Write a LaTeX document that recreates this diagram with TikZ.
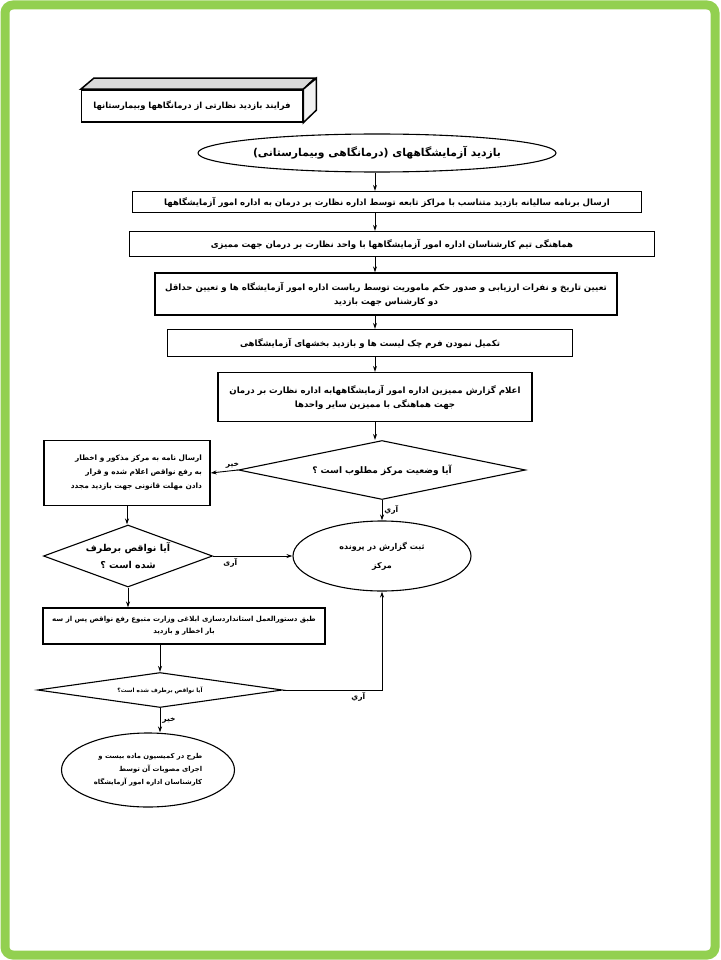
\documentclass[tikz,border=0pt]{standalone}
\usepackage{fontspec}
\newfontfamily\fa[Script=Arabic]{DejaVu Sans}
\TeXXeTstate=1
\usetikzlibrary{positioning, shapes.geometric, arrows.meta}
\definecolor{framegreen}{RGB}{146,208,80}
\newcommand{\rtl}[1]{\beginR #1\endR}

\begin{document}
\begin{tikzpicture}[x=1pt, y=-1pt, >={Stealth[length=6pt, width=4pt]},
  procbox/.style={rectangle, draw, line width=1.3pt, align=center, inner sep=2pt, font=\fa\bfseries\fontsize{8.6}{14}\selectfont},
  termbox/.style={ellipse, draw, line width=1.1pt, align=center, inner sep=0pt, font=\fa\bfseries\fontsize{8.6}{14}\selectfont},
  askbox/.style={diamond, draw, line width=1.1pt, align=center, inner sep=0pt, font=\fa\bfseries\fontsize{9}{14}\selectfont},
  flow/.style={->, line width=0.9pt},
  tag/.style={font=\fa\bfseries\fontsize{7.5}{9}\selectfont, inner sep=2pt}]
  \useasboundingbox (0,0) rectangle (720,960);
  \draw[framegreen, line width=9pt, rounded corners=8pt] (5,5) rectangle (715,955);

  % Nodes
  \node[procbox, minimum width=221pt, minimum height=32pt, line width=1.5pt, font=\fa\bfseries\fontsize{8.4}{12}\selectfont] (title) at (192,106) {\rtl{فرایند بازدید نظارتی از درمانگاهها وبیمارستانها}};
  \draw[line width=1.5pt, fill=gray!30] (title.north west) -- ++(13,-11) -- ++(221,0) -- (title.north east) -- cycle;
  \draw[line width=1.5pt, fill=gray!10] (title.north east) -- ++(13,-11) -- ++(0,32) -- (title.south east) -- cycle;

  \node[termbox, minimum width=358pt, minimum height=38pt, font=\fa\bfseries\fontsize{10.8}{14}\selectfont] (visit) at (377,153) {\rtl{بازدید آزمایشگاههای (درمانگاهی وبیمارستانی)}};

  \node[procbox, minimum width=509pt, minimum height=21pt] (send) at (387,202) {\rtl{ارسال برنامه سالیانه بازدید متناسب با مراکز تابعه توسط اداره نظارت بر درمان به اداره امور آزمایشگاهها}};

  \node[procbox, minimum width=525pt, minimum height=25pt] (coord) at (392,244) {\rtl{هماهنگی تیم کارشناسان اداره امور آزمایشگاهها با واحد نظارت بر درمان جهت ممیزی}};

  \node[procbox, minimum width=462pt, minimum height=42pt] (date) at (386,294) {\rtl{تعیین تاریخ و نفرات ارزیابی و صدور حکم ماموریت توسط ریاست اداره امور آزمایشگاه ها و تعیین حداقل}\\ \rtl{دو کارشناس جهت بازدید}};

  \node[procbox, minimum width=405pt, minimum height=27pt] (check) at (370,343) {\rtl{تکمیل نمودن فرم چک لیست ها و بازدید بخشهای آزمایشگاهی}};

  \node[procbox, minimum width=314pt, minimum height=49pt] (report) at (375,397) {\rtl{اعلام گزارش ممیزین اداره امور آزمایشگاههابه اداره نظارت بر درمان}\\ \rtl{جهت هماهنگی با ممیزین سایر واحدها}};

  \node[askbox, shape aspect=4.86, minimum width=287pt, minimum height=59pt] (status) at (382,470) {\rtl{آیا وضعیت مرکز مطلوب است ؟}};

  \node[procbox, align=right, text width=150pt, minimum width=166pt, minimum height=65pt, font=\fa\bfseries\fontsize{7.4}{14}\selectfont] (warn) at (127,473) {\rtl{ارسال نامه به مرکز مذکور و اخطار}\\ \rtl{به رفع نواقص اعلام شده و قرار}\\ \rtl{دادن مهلت قانونی جهت بازدید مجدد}};

  \node[askbox, shape aspect=2.7, minimum width=169pt, minimum height=62pt, font=\fa\bfseries\fontsize{9.5}{17}\selectfont] (fixed) at (128,556) {\rtl{آیا نواقص برطرف}\\ \rtl{شده است ؟}};

  \node[termbox, minimum width=178pt, minimum height=70pt, font=\fa\bfseries\fontsize{8}{19}\selectfont] (record) at (382,556) {\rtl{ثبت گزارش در پرونده}\\ \rtl{مرکز}};

  \node[procbox, minimum width=282pt, minimum height=36pt, line width=1.1pt, font=\fa\bfseries\fontsize{7}{12}\selectfont] (rule) at (184,626) {\rtl{طبق دستورالعمل استانداردسازی ابلاغی وزارت متبوع رفع نواقص پس از سه}\\ \rtl{بار اخطار و بازدید}};

  \node[askbox, shape aspect=7, minimum width=245pt, minimum height=35pt, font=\fa\bfseries\fontsize{5.8}{10}\selectfont] (again) at (160,690) {\rtl{آیا نواقص برطرف شده است؟}};

  \node[termbox, align=right, minimum width=173pt, minimum height=74pt, font=\fa\bfseries\fontsize{6.8}{13}\selectfont] (commission) at (148,770) {\rtl{طرح در کمیسیون ماده بیست و}\\ \rtl{اجرای مصوبات آن توسط}\\ \rtl{کارشناسان اداره امور آزمایشگاه}};

  \coordinate (axis) at (375,0);

  \draw[flow] (visit.south -| axis) -- (send.north -| axis);
  \draw[flow] (send.south -| axis) -- (coord.north -| axis);
  \draw[flow] (coord.south -| axis) -- (date.north -| axis);
  \draw[flow] (date.south -| axis) -- (check.north -| axis);
  \draw[flow] (check.south -| axis) -- (report.north -| axis);
  \draw[flow] (report.south -| axis) -- (status.north -| axis);
  \draw[flow] (status.west) -- node[tag, pos=0.2, above] {\rtl{خير}} (warn.east);
  \draw[flow] (status.south) -- node[tag, right] {\rtl{آري}} (record.north);
  \draw[flow] (warn.south) -- (warn.south |- fixed.north);
  \draw[flow] (fixed.east) -- node[tag, pos=0.1, below right] {\rtl{آری}} (record.west);
  \draw[flow] (fixed.south) -- (fixed.south |- rule.north);
  \draw[flow] (again.north |- rule.south) -- (again.north);
  \draw[flow] (again.east) -| node[tag, pos=0.38, below] {\rtl{آري}} (record.south);
  \draw[flow] (again.south) -- node[tag, right] {\rtl{خير}} (again.south |- commission.north);
\end{tikzpicture}
\end{document}
